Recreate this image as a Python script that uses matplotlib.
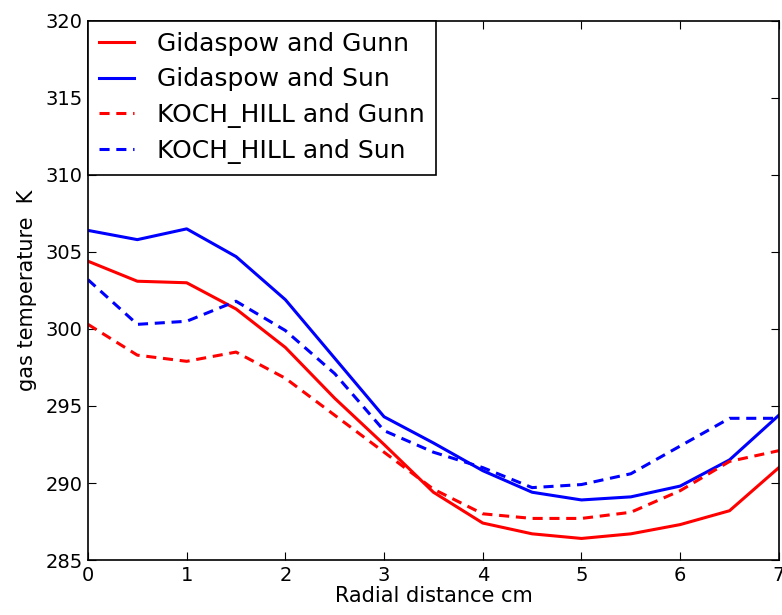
import matplotlib
matplotlib.use("Agg")
import matplotlib.pyplot as plt

x = [0, 0.5, 1, 1.5, 2, 2.5, 3, 3.5, 4, 4.5, 5, 5.5, 6, 6.5, 7]
gid_gunn = [304.4, 303.1, 303.0, 301.3, 298.8, 295.5, 292.5, 289.4, 287.4, 286.7, 286.4, 286.7, 287.3, 288.2, 291.0]
gid_sun = [306.4, 305.8, 306.5, 304.7, 301.9, 298.1, 294.3, 292.6, 290.8, 289.4, 288.9, 289.1, 289.8, 291.5, 294.4]
koch_gunn = [300.3, 298.3, 297.9, 298.5, 296.8, 294.4, 292.0, 289.6, 288.0, 287.7, 287.7, 288.1, 289.5, 291.4, 292.1]
koch_sun = [303.2, 300.3, 300.5, 301.8, 299.9, 297.1, 293.4, 292.0, 291.0, 289.7, 289.9, 290.6, 292.4, 294.2, 294.2]
labels = ["Gidaspow and Gunn", "Gidaspow and Sun", "KOCH_HILL and Gunn", "KOCH_HILL and Sun"]

plt.rcParams['font.family'] = ['DejaVu Sans']
fig = plt.figure(figsize=(7.82, 6.15), dpi=100)
ax = fig.add_axes([0.1125, 0.0894, 0.8835, 0.8766])
lw = 2.2
dash = (0, (3.3, 2.2))
ax.plot(x, gid_gunn, color='red', lw=lw, label=labels[0])
ax.plot(x, gid_sun, color='blue', lw=lw, label=labels[1])
ax.plot(x, koch_gunn, color='red', lw=lw, ls=dash, label=labels[2])
ax.plot(x, koch_sun, color='blue', lw=lw, ls=dash, label=labels[3])
ax.set_xlim(0, 7)
ax.set_ylim(285, 320)
ax.set_xticks(range(0, 8))
ax.set_yticks(range(285, 321, 5))
ax.tick_params(direction='in', top=True, right=True, length=6, labelsize=14, pad=4)
ax.set_xlabel("Radial distance cm", fontsize=15, labelpad=1)
ax.set_ylabel("gas temperature  K", fontsize=15, labelpad=6)
for s in ax.spines.values():
    s.set_linewidth(1.2)
leg = ax.legend(loc='upper left', fontsize=18, fancybox=False, framealpha=1,
                edgecolor='black', borderaxespad=0, handlelength=1.4, handletextpad=0.9,
                borderpad=0.45, labelspacing=0.45)
leg.get_frame().set_linewidth(1.2)
fig.savefig("out.png", dpi=100)
